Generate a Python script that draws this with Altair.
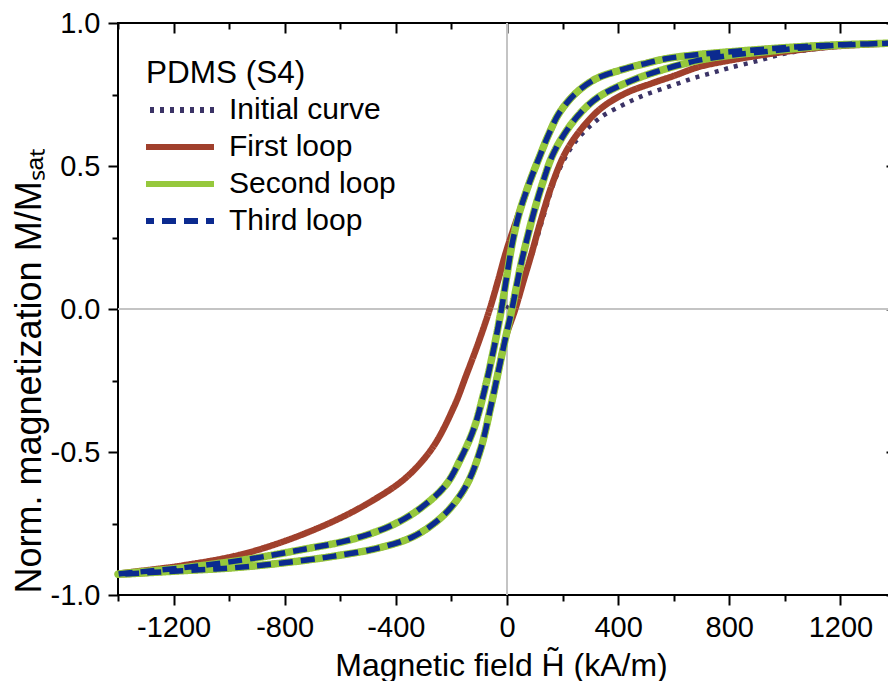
import altair as alt
import pandas as pd

FONT = "Liberation Sans"

SERIES = ["Initial curve", "First loop", "Second loop", "Third loop"]
COLORS = ["#3b3366", "#a0402c", "#96c83c", "#0b2a8f"]
DASHES = [[4, 6], [1, 0], [1, 0], [14, 8]]
WIDTHS = [4.5, 6.5, 7.5, 5.5]

# initial magnetisation curve
INIT_H = [0, 30, 60, 90, 130, 170, 210, 250, 300, 344, 400, 452, 500, 560, 620, 680, 740, 800, 900, 1000, 1100, 1200, 1300, 1400]
INIT_M = [0.0, 0.05, 0.11, 0.19, 0.32, 0.445, 0.53, 0.59, 0.64, 0.675, 0.705, 0.73, 0.75, 0.77, 0.79, 0.81, 0.826, 0.843, 0.867, 0.893, 0.908, 0.918, 0.925, 0.93]

# descending branch, part common to all loops
DESC_SHARED_H = [1400, 1300, 1172, 1052, 932, 812, 692, 572, 488, 404, 320, 248, 188, 152, 116, 80]
DESC_SHARED_M = [0.93, 0.927, 0.923, 0.917, 0.909, 0.900, 0.890, 0.875, 0.856, 0.834, 0.805, 0.755, 0.685, 0.615, 0.53, 0.44]

# descending branch, first loop
DESC_FIRST_H = [50, 20, -5, -32, -62, -100, -148, -190, -268, -364, -484, -620, -796, -964, -1168, -1400]
DESC_FIRST_M = [0.355, 0.27, 0.195, 0.10, 0.0, -0.11, -0.235, -0.34, -0.485, -0.59, -0.67, -0.74, -0.81, -0.86, -0.897, -0.927]

# descending branch, second and third loop
DESC_LATER_H = [44, 20, 0, -20, -50, -85, -120, -165, -220, -316, -412, -556, -748, -940, -1168, -1400]
DESC_LATER_M = [0.335, 0.235, 0.12, 0.0, -0.15, -0.30, -0.42, -0.52, -0.615, -0.70, -0.755, -0.805, -0.843, -0.876, -0.905, -0.927]

# ascending branch, part common to all loops
ASC_SHARED_H = [-1168, -988, -808, -628, -460, -340, -250, -190, -140, -95, -58, -25, -5]
ASC_SHARED_M = [-0.915, -0.905, -0.888, -0.865, -0.835, -0.797, -0.74, -0.68, -0.605, -0.49, -0.34, -0.19, -0.10]

# ascending branch, first loop
ASC_FIRST_H = [30, 60, 86, 122, 164, 212, 272, 340, 428, 524, 600, 692, 812, 932, 1052, 1172, 1300, 1400]
ASC_FIRST_M = [0.0, 0.1, 0.185, 0.31, 0.44, 0.55, 0.635, 0.703, 0.755, 0.79, 0.815, 0.847, 0.871, 0.89, 0.906, 0.918, 0.925, 0.93]

# ascending branch, second and third loop
ASC_LATER_H = [18, 50, 80, 100, 128, 165, 224, 284, 340, 452, 572, 692, 812, 932, 1052, 1172, 1300, 1400]
ASC_LATER_M = [0.0, 0.155, 0.276, 0.35, 0.44, 0.54, 0.637, 0.705, 0.748, 0.80, 0.84, 0.87, 0.888, 0.90, 0.912, 0.921, 0.927, 0.93]

X_TICKS = [-1400, -1200, -1000, -800, -600, -400, -200, 0, 200, 400, 600, 800, 1000, 1200, 1400]
Y_TICKS = [-1.0, -0.75, -0.5, -0.25, 0.0, 0.25, 0.5, 0.75, 1.0]
ZERO = [0]


def branch(name, segments):
    rows, k = [], 0
    for hs, ms in segments:
        for h, m in zip(hs, ms):
            rows.append({"series": name, "idx": k, "H": h, "M": m})
            k += 1
    return rows


first = [(DESC_SHARED_H, DESC_SHARED_M), (DESC_FIRST_H, DESC_FIRST_M),
         (ASC_SHARED_H, ASC_SHARED_M), (ASC_FIRST_H, ASC_FIRST_M)]
later = [(DESC_SHARED_H, DESC_SHARED_M), (DESC_LATER_H, DESC_LATER_M),
         (ASC_SHARED_H, ASC_SHARED_M), (ASC_LATER_H, ASC_LATER_M)]
df = pd.DataFrame(branch(SERIES[0], [(INIT_H, INIT_M)]) + branch(SERIES[1], first)
                  + branch(SERIES[2], later) + branch(SERIES[3], later))

W, H = 778, 572
X_MAJOR = "datum.value % 400 === 0"
Y_MAJOR = "abs(datum.value * 2 - round(datum.value * 2)) < 0.001"
x_tick = {"condition": {"test": X_MAJOR, "value": 10}, "value": 6}
y_tick = {"condition": {"test": Y_MAJOR, "value": 10}, "value": 6}

common = dict(domain=False, grid=False, tickColor="black", tickWidth=2,
              labelFont=FONT, labelFontSize=29, labelColor="black",
              labelFlush=False, labelOverlap=False, titleFont=FONT,
              titleColor="black", titleFontWeight="normal")

x_main = alt.Axis(orient="bottom", values=X_TICKS, format="d", tickSize=x_tick,
                  labelExpr=f"{X_MAJOR} ? replace(datum.label, '−', '-') : ''",
                  labelPadding=8, title="Magnetic field H̃ (kA/m)", titleFontSize=32,
                  titleX=383, titleY=80, titleBaseline="alphabetic", titleAlign="center",
                  **common)
y_main = alt.Axis(orient="left", values=Y_TICKS, format=".1f", tickSize=y_tick,
                  labelExpr=f"{Y_MAJOR} ? replace(datum.label, '−', '-') : ''",
                  labelPadding=8, title="Norm. magnetization M/Mₛₐₜ", titleFontSize=36,
                  titleX=-78, titleY=570, titleAngle=270, titleBaseline="alphabetic",
                  titleAlign="left", **common)
x_top = alt.Axis(orient="bottom", offset=-H, values=X_TICKS, tickSize=x_tick,
                 labels=False, title="", **common)
y_right = alt.Axis(orient="left", offset=-W, values=Y_TICKS, tickSize=y_tick,
                   labels=False, title="", **common)

xs = alt.Scale(domain=[-1400, 1400], nice=False, zero=False)
ys = alt.Scale(domain=[-1, 1], nice=False, zero=False)

LEG = alt.Legend(title="PDMS (S4)", orient="none", legendX=28, legendY=35, padding=0,
                 titleFont=FONT, titleFontSize=31.5, titleFontWeight="normal",
                 titleColor="black", titlePadding=2, labelFont=FONT, labelFontSize=30,
                 labelColor="black", labelLimit=0, symbolType="M-3.7,0H3.7",
                 symbolSize=400, symbolStrokeWidth=6, clipHeight=37, rowPadding=0,
                 symbolOffset=16, labelOffset=37)

color = alt.Color("series:N", scale=alt.Scale(domain=SERIES, range=COLORS), legend=LEG)
dash = alt.StrokeDash("series:N", scale=alt.Scale(domain=SERIES, range=DASHES), legend=LEG)

zero_df = pd.DataFrame({"H": ZERO, "M": ZERO})
vrule = alt.Chart(zero_df).mark_rule(color="#c4c4c4", strokeWidth=2).encode(
    x=alt.X("H:Q", scale=xs, axis=None))
hrule = alt.Chart(zero_df).mark_rule(color="#c4c4c4", strokeWidth=2).encode(
    y=alt.Y("M:Q", scale=ys, axis=None))

layers = [vrule, hrule]
for i, name in enumerate(SERIES):
    first_layer = i == 0
    layers.append(
        alt.Chart(df).transform_filter(alt.datum.series == name)
        .mark_line(strokeWidth=WIDTHS[i], interpolate="catmull-rom", strokeCap="butt")
        .encode(
            x=alt.X("H:Q", scale=xs, axis=x_main if first_layer else None),
            y=alt.Y("M:Q", scale=ys, axis=y_main if first_layer else None),
            color=color, strokeDash=dash, order=alt.Order("idx:Q"))
    )

ticks_layer = (alt.Chart(df).transform_filter(alt.datum.series == SERIES[0])
               .mark_point(opacity=0)
               .encode(x=alt.X("H:Q", scale=xs, axis=x_top),
                       y=alt.Y("M:Q", scale=ys, axis=y_right)))
layers.append(ticks_layer)

chart = (alt.layer(*layers)
         .resolve_axis(x="independent", y="independent")
         .properties(width=W, height=H, autosize="none",
                     padding={"left": 110, "top": 15, "right": -8, "bottom": 86},
                     background="white")
         .configure_view(stroke="black", strokeWidth=2))

chart.save("out.html", embed_options={"renderer": "svg", "actions": False})
